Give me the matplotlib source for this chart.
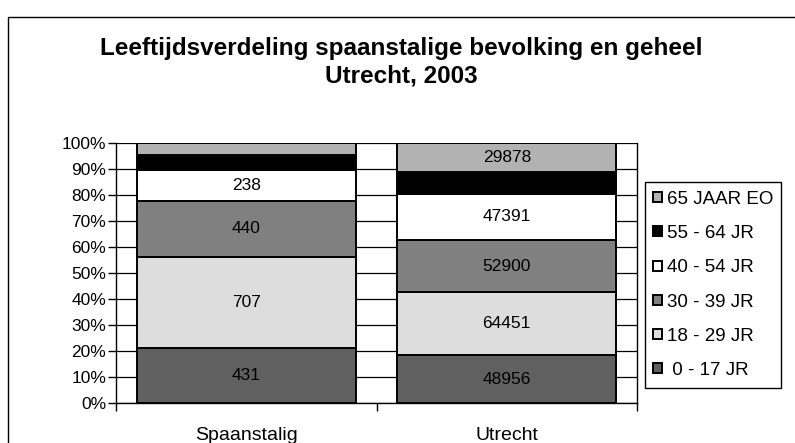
import matplotlib.pyplot as plt
from matplotlib.patches import Rectangle
import numpy as np

plt.rcParams['font.family'] = ['Liberation Sans', 'DejaVu Sans']

categories = ['Spaanstalig', 'Utrecht']
age_groups = [' 0 - 17 JR', '18 - 29 JR', '30 - 39 JR', '40 - 54 JR', '55 - 64 JR', '65 JAAR EO']
counts = {
    ' 0 - 17 JR': [431, 48956],
    '18 - 29 JR': [707, 64451],
    '30 - 39 JR': [440, 52900],
    '40 - 54 JR': [238, 47391],
    '55 - 64 JR': [120, 22000],
    '65 JAAR EO': [92, 29878],
}
colors = ['#606060', '#dddddd', '#808080', '#ffffff', '#000000', '#b2b2b2']
# which segments carry a value label
show_label = {
    ' 0 - 17 JR': [True, True],
    '18 - 29 JR': [True, True],
    '30 - 39 JR': [True, True],
    '40 - 54 JR': [True, True],
    '55 - 64 JR': [False, False],
    '65 JAAR EO': [False, True],
}

W, H = 795, 443
fig = plt.figure(figsize=(W / 100, H / 100), dpi=100)
ax = fig.add_axes([116 / W, 1 - 403 / H, (637 - 116) / W, (403 - 143) / H])

# outer chart frame (cut off at right and bottom)
fig.patches.append(Rectangle((8 / W, -0.1), 1.2, 1.1 - 17 / H, transform=fig.transFigure,
                             fill=False, edgecolor='black', linewidth=1.0))

totals = np.sum([counts[g] for g in age_groups], axis=0)
x = np.arange(len(categories))
bottom = np.zeros(len(categories))
for g, c in zip(age_groups, colors):
    vals = np.array(counts[g], dtype=float)
    pct = vals / totals * 100
    ax.bar(x, pct, 0.84, bottom=bottom, color=c, edgecolor='black', linewidth=1.4, zorder=3, label=g)
    for i in range(len(categories)):
        if show_label[g][i]:
            ax.text(x[i], bottom[i] + pct[i] / 2, str(counts[g][i]), ha='center', va='center',
                    fontsize=12.5, zorder=4)
    bottom += pct

ax.set_xlim(-0.5, 1.5)
ax.set_ylim(0, 100)
ax.set_yticks(np.arange(0, 101, 10))
ax.set_yticklabels([f'{v}%' for v in range(0, 101, 10)], fontsize=12.5)
ax.yaxis.grid(True, color='black', linewidth=0.9, zorder=0)
ax.set_xticks(x)
ax.set_xticklabels(categories, fontsize=14)
ax.tick_params(axis='x', which='major', length=0, pad=17)
ax.set_xticks([-0.5, 0.5, 1.5], minor=True)
ax.tick_params(axis='x', which='minor', length=6, width=1)
ax.tick_params(axis='y', length=6, width=1, pad=1)
ax.spines['top'].set_visible(False)
for side in ['left', 'bottom', 'right']:
    ax.spines[side].set_linewidth(1.0)

fig.text(401 / W, 1 - 48 / H, 'Leeftijdsverdeling spaanstalige bevolking en geheel',
         ha='center', va='center', fontsize=17.5, fontweight='bold')
fig.text(401 / W, 1 - 76 / H, 'Utrecht, 2003',
         ha='center', va='center', fontsize=17.5, fontweight='bold')

handles, labels = ax.get_legend_handles_labels()
leg = fig.legend(handles[::-1], labels[::-1], loc='center left',
                 bbox_to_anchor=(645 / W, 1 - 285 / H), fontsize=13.5,
                 frameon=True, fancybox=False, edgecolor='black', framealpha=1,
                 handlelength=0.45, handleheight=0.45, handletextpad=0.25,
                 labelspacing=0.92, borderpad=0.45, borderaxespad=0)
leg.get_frame().set_linewidth(1.0)

fig.savefig('out.png', dpi=100)
